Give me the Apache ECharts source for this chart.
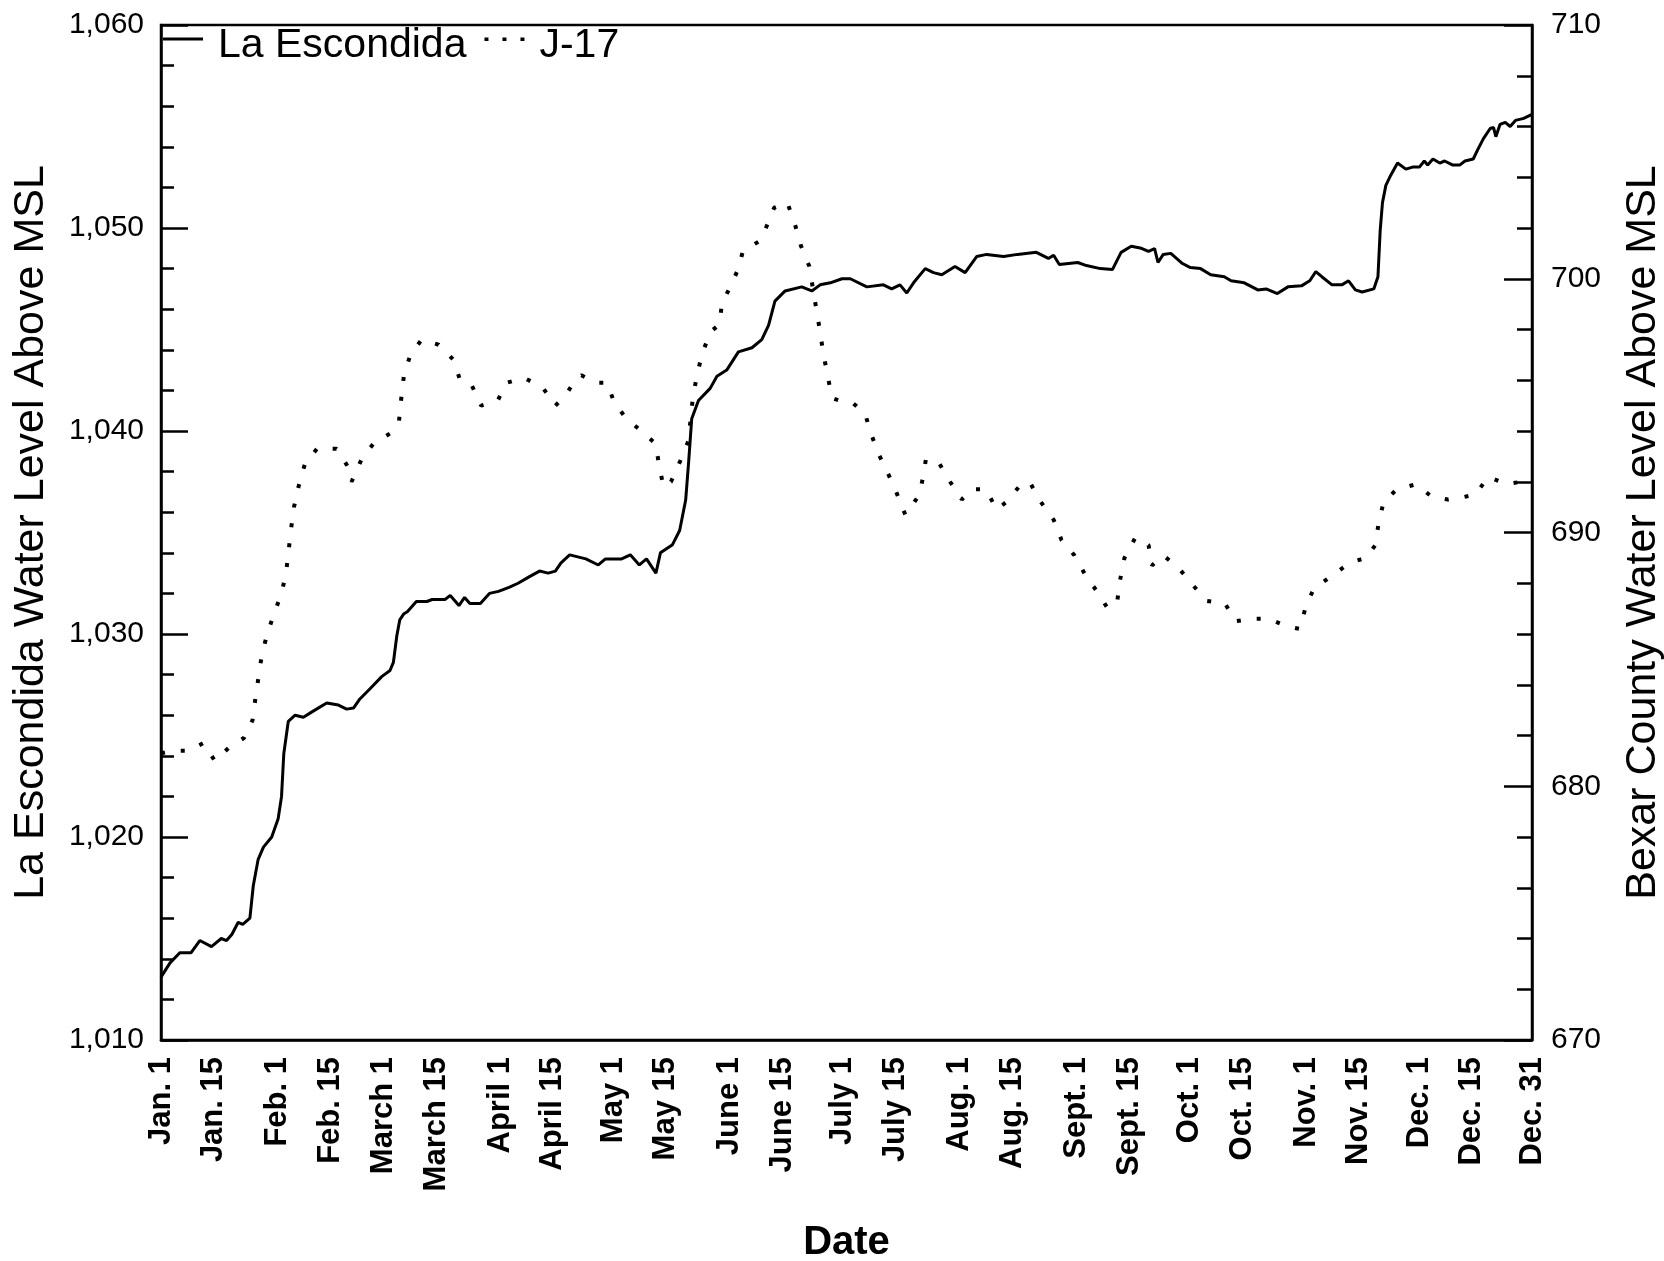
<!DOCTYPE html>
<html>
<head>
<meta charset="utf-8">
<title>La Escondida / J-17</title>
<script src="https://cdn.jsdelivr.net/npm/echarts@6.0.0/dist/echarts.min.js"></script>
<style>
  html, body { margin: 0; padding: 0; background: #fff; }
  #chart { width: 1664px; height: 1261px; }
</style>
</head>
<body>
<div id="chart"></div>
<script>
// x axis: day of year, labels on the 1st and 15th
var dateTicks = [1, 15, 32, 46, 60, 74, 91, 105, 121, 135, 152, 166, 182, 196, 213, 227, 244, 258, 274, 288, 305, 319, 335, 349, 365];
var dateLabels = ['Jan. 1', 'Jan. 15', 'Feb. 1', 'Feb. 15', 'March 1', 'March 15', 'April 1', 'April 15', 'May 1', 'May 15',
  'June 1', 'June 15', 'July 1', 'July 15', 'Aug. 1', 'Aug. 15', 'Sept. 1', 'Sept. 15', 'Oct. 1', 'Oct. 15',
  'Nov. 1', 'Nov. 15', 'Dec. 1', 'Dec. 15', 'Dec. 31'];

// La Escondida (left axis)
var escDays = [1, 3.4, 6, 9, 11.3, 14.4, 17, 18.4, 19.8, 21.5, 22.7, 24.6, 25.5, 26.8, 28.2, 30.4, 32.1, 33, 33.6, 34.8,
  36.6, 38.8, 41.4, 45, 48.1, 50.3, 52.1, 53.8, 56.5, 59.6, 61.8, 62.7, 63.6, 64.4, 65.5, 66.4, 68.8, 71.6, 73, 76.4,
  77.8, 80.1, 81.6, 83, 85.8, 88.2, 90.6, 93.4, 95.8, 98.6, 101.5, 103.8, 105.7, 107.2, 109.5, 113.8, 117.1, 119, 123.3, 125.6,
  128, 129.9, 132.4, 133.6, 136.8, 138.7, 140.3, 141.1, 141.9, 143.7, 146.8, 148.6, 151.2, 154.3, 157.9, 160.5, 162.3, 164, 166.7, 171.1,
  173.8, 176, 178.7, 181.8, 184, 188.4, 192.8, 195, 197.2, 199, 200.8, 203.9, 206.1, 208.3, 211.8, 214.5, 217.6, 220.2, 224.7, 228.4,
  233.4, 236.6, 238, 239.5, 244.4, 246.7, 250.4, 253.6, 255.9, 258.6, 261.3, 263.2, 264.8, 265.7, 267.1, 269.1, 272.2, 274.3, 277, 279.7,
  283.3, 285.1, 288.6, 292.2, 294.4, 297.4, 300.2, 303.8, 306, 307.6, 309.2, 311.9, 314.5, 316.3, 318.1, 319.9, 323, 324.1, 324.7, 325.3,
  326.2, 327.5, 329.3, 331.5, 333.3, 335.1, 336.4, 337.3, 338.7, 340.5, 341.8, 344, 345.8, 347.2, 349.4, 350.7, 352.1, 353.9, 354.8, 355.4,
  356.5, 357.9, 359.2, 360.6, 362.8, 365];
var escLevel = [1013.1, 1013.8, 1014.3, 1014.3, 1014.9, 1014.6, 1015.0, 1014.9, 1015.2, 1015.8, 1015.7, 1016.0, 1017.6, 1018.9, 1019.5, 1020.0, 1020.9, 1022.0, 1024.1, 1025.7,
  1026.0, 1025.9, 1026.2, 1026.6, 1026.5, 1026.3, 1026.35, 1026.8, 1027.3, 1027.9, 1028.2, 1028.6, 1029.9, 1030.7, 1031.0, 1031.1, 1031.6, 1031.6, 1031.7, 1031.7,
  1031.9, 1031.4, 1031.8, 1031.5, 1031.5, 1032.0, 1032.1, 1032.3, 1032.5, 1032.8, 1033.1, 1033.0, 1033.1, 1033.5, 1033.9, 1033.7, 1033.4, 1033.7, 1033.7, 1033.9,
  1033.4, 1033.7, 1033.0, 1034.0, 1034.4, 1035.1, 1036.6, 1038.5, 1040.6, 1041.5, 1042.1, 1042.7, 1043.0, 1043.9, 1044.1, 1044.5, 1045.2, 1046.4, 1046.9, 1047.1,
  1046.9, 1047.2, 1047.3, 1047.5, 1047.5, 1047.1, 1047.2, 1047.0, 1047.2, 1046.8, 1047.3, 1048.0, 1047.8, 1047.7, 1048.1, 1047.8, 1048.6, 1048.7, 1048.6, 1048.7,
  1048.8, 1048.5, 1048.66, 1048.2, 1048.3, 1048.15, 1048.0, 1047.95, 1048.8, 1049.1, 1049.0, 1048.85, 1048.98, 1048.3, 1048.7, 1048.75, 1048.25, 1048.05, 1048.0, 1047.7,
  1047.6, 1047.4, 1047.3, 1046.95, 1047.0, 1046.77, 1047.1, 1047.15, 1047.4, 1047.85, 1047.6, 1047.2, 1047.2, 1047.4, 1046.95, 1046.85, 1047.0, 1047.6, 1049.9, 1051.25,
  1052.1, 1052.6, 1053.2, 1052.9, 1053.0, 1053.0, 1053.3, 1053.1, 1053.4, 1053.2, 1053.3, 1053.1, 1053.1, 1053.3, 1053.4, 1053.9, 1054.4, 1054.9, 1054.95, 1054.5,
  1055.1, 1055.2, 1055.0, 1055.3, 1055.4, 1055.6];

// J-17 (right axis)
var j17Days = [1, 4.4, 8.5, 12.2, 15.3, 18.9, 23, 25.3, 26.1, 26.9, 27.8, 29.2, 31, 33, 34.2, 34.9, 35.5, 36.3, 37.5, 39.2,
  42.4, 47.6, 50.6, 51.6, 54.3, 57.4, 61.8, 64.2, 64.8, 65.5, 67.2, 70.2, 74.7, 78.7, 80.4, 83.5, 86, 88.3, 90.4, 92.8,
  97.4, 102.4, 105.7, 108.4, 110.5, 112.6, 116.5, 119.4, 121.4, 124.5, 128.5, 132.3, 133.2, 134.4, 136.4, 138.8, 141, 142.2, 143.3, 144.6,
  146.8, 149.3, 149.9, 152.5, 154.3, 155.5, 160.1, 161.6, 163.8, 167.3, 169.4, 170.9, 173.1, 175.1, 176, 176.9, 178, 179.1, 181.1, 184.7,
  187.9, 189.5, 191.5, 194.1, 196.2, 198.6, 201, 202.4, 203.2, 204.1, 207.7, 210.5, 213.6, 216.3, 220, 222.9, 225.4, 228.8, 231.6, 234.6,
  238, 240.1, 243.5, 246.5, 249.4, 252.4, 254.9, 255.6, 256.8, 259.7, 263.2, 264.1, 267.1, 271.2, 275.1, 278.7, 283.5, 286.3, 290.2, 295.1,
  300, 303.3, 305, 307.1, 312, 316.5, 320.9, 323.4, 324.3, 325.6, 329.1, 334.2, 338.5, 342.7, 347, 350, 353.4, 358.2, 362.1, 365];
var j17Level = [681.3, 681.4, 681.4, 681.7, 681.0, 681.5, 681.9, 682.6, 683.5, 684.3, 685.2, 686.0, 686.8, 687.6, 688.4, 689.3, 690.1, 691.0, 691.8, 692.7,
  693.3, 693.3, 692.6, 692.0, 692.9, 693.5, 693.9, 694.4, 695.3, 696.2, 697.0, 697.6, 697.4, 696.8, 696.0, 695.8, 695.0, 695.1, 695.2, 695.9,
  696.1, 695.7, 695.0, 695.4, 695.9, 696.2, 695.9, 695.9, 695.1, 694.5, 694.0, 693.5, 692.7, 691.8, 692.0, 692.8, 693.6, 695.3, 696.2, 697.0,
  697.9, 698.2, 699.0, 699.8, 700.4, 701.1, 701.5, 702.0, 702.8, 703.0, 702.1, 701.3, 700.5, 698.7, 697.9, 697.0, 696.2, 695.3, 695.2, 695.1,
  694.7, 693.9, 693.1, 692.3, 691.6, 690.7, 691.2, 691.5, 692.1, 692.9, 692.7, 692.0, 691.3, 691.7, 691.7, 690.9, 691.2, 691.8, 692.0, 691.2,
  690.5, 689.7, 689.1, 688.3, 687.7, 687.0, 687.3, 688.1, 689.0, 689.8, 689.5, 688.7, 689.1, 688.6, 687.9, 687.3, 687.2, 686.5, 686.6, 686.6,
  686.3, 686.2, 687.1, 687.8, 688.3, 688.8, 689.0, 689.5, 690.4, 691.2, 691.7, 691.9, 691.4, 691.3, 691.4, 691.5, 692.2, 691.9, 692.0, 691.9];

function pairs(xs, ys) {
  return xs.map(function (x, i) { return [x, ys[i]]; });
}

var FONT = 'Liberation Sans, Arial, Helvetica, sans-serif';

// legend samples: a short rule and three dots, sitting in the upper part of the icon box
var solidIcon = 'path://M0,0h40v3h-40z M0,16h0.1v-0.1h-0.1z';
var dotIcon = 'path://M0,0h4v3.5h-4z M18,0h4v3.5h-4z M36,0h4v3.5h-4z M0,16h0.1v-0.1h-0.1z';

var myChart = echarts.init(document.getElementById('chart'));

var option = {
  backgroundColor: '#fff',
  animation: false,
  textStyle: { fontFamily: FONT, color: '#000' },
  grid: {
    left: 161, right: 132, top: 25, bottom: 221,
    outerBoundsMode: 'none',
    containLabel: false,
    show: true, borderColor: '#000', borderWidth: 2.5, backgroundColor: 'transparent'
  },
  legend: {
    left: 163, top: 25, padding: 0,
    itemWidth: 40, itemHeight: 16, itemGap: 18,
    symbolKeepAspect: false,
    textStyle: { fontSize: 41, color: '#000', fontFamily: FONT, padding: [0, 0, 0, 10] },
    data: [
      { name: 'La Escondida', icon: solidIcon },
      { name: 'J-17', icon: dotIcon }
    ]
  },
  xAxis: {
    type: 'value',
    min: 1, max: 365,
    name: 'Date',
    nameLocation: 'middle',
    nameGap: 183,
    nameTextStyle: { fontSize: 40, fontWeight: 'bold', color: '#000', fontFamily: FONT },
    axisLine: { show: true, lineStyle: { color: '#000', width: 2.5 } },
    axisTick: { show: false },
    splitLine: { show: false },
    axisLabel: {
      customValues: dateTicks,
      rotate: 90,
      margin: 17,
      fontSize: 31,
      fontWeight: 'bold',
      color: '#000',
      fontFamily: FONT,
      formatter: function (v) {
        var i = dateTicks.indexOf(v);
        return i >= 0 ? dateLabels[i] : '';
      }
    }
  },
  yAxis: [{
    type: 'value',
    position: 'left',
    min: 1010, max: 1060, interval: 10,
    name: 'La Escondida Water Level Above MSL',
    nameLocation: 'middle',
    nameRotate: 90,
    nameGap: 108,
    nameTextStyle: { fontSize: 43, color: '#000', fontFamily: FONT },
    axisLine: { show: true, lineStyle: { color: '#000', width: 2.5 } },
    axisTick: { show: true, inside: true, length: 27, lineStyle: { color: '#000', width: 2.5 } },
    minorTick: { show: true, splitNumber: 5, length: 13, lineStyle: { color: '#000', width: 2.5 } },
    splitLine: { show: false },
    axisLabel: {
      margin: 17, fontSize: 30, color: '#000', fontFamily: FONT,
      formatter: function (v) { return v.toLocaleString('en-US'); }
    }
  }, {
    type: 'value',
    position: 'right',
    min: 670, max: 710, interval: 10,
    name: 'Bexar County Water Level Above MSL',
    nameLocation: 'middle',
    nameRotate: 90,
    nameGap: 90,
    nameTextStyle: { fontSize: 43, color: '#000', fontFamily: FONT },
    axisLine: { show: true, lineStyle: { color: '#000', width: 2.5 } },
    axisTick: { show: true, inside: true, length: 28, lineStyle: { color: '#000', width: 2.5 } },
    minorTick: { show: true, splitNumber: 5, length: 15, lineStyle: { color: '#000', width: 2.5 } },
    splitLine: { show: false },
    axisLabel: { margin: 19, fontSize: 30, color: '#000', fontFamily: FONT }
  }],
  series: [{
    name: 'La Escondida',
    type: 'line',
    yAxisIndex: 0,
    symbol: 'none',
    data: pairs(escDays, escLevel),
    lineStyle: { color: '#000', width: 3 },
    itemStyle: { color: '#000' }
  }, {
    name: 'J-17',
    type: 'line',
    yAxisIndex: 1,
    symbol: 'none',
    data: pairs(j17Days, j17Level),
    lineStyle: { color: '#000', width: 4, type: [4, 16] },
    itemStyle: { color: '#000' }
  }]
};

myChart.setOption(option);
</script>
</body>
</html>
